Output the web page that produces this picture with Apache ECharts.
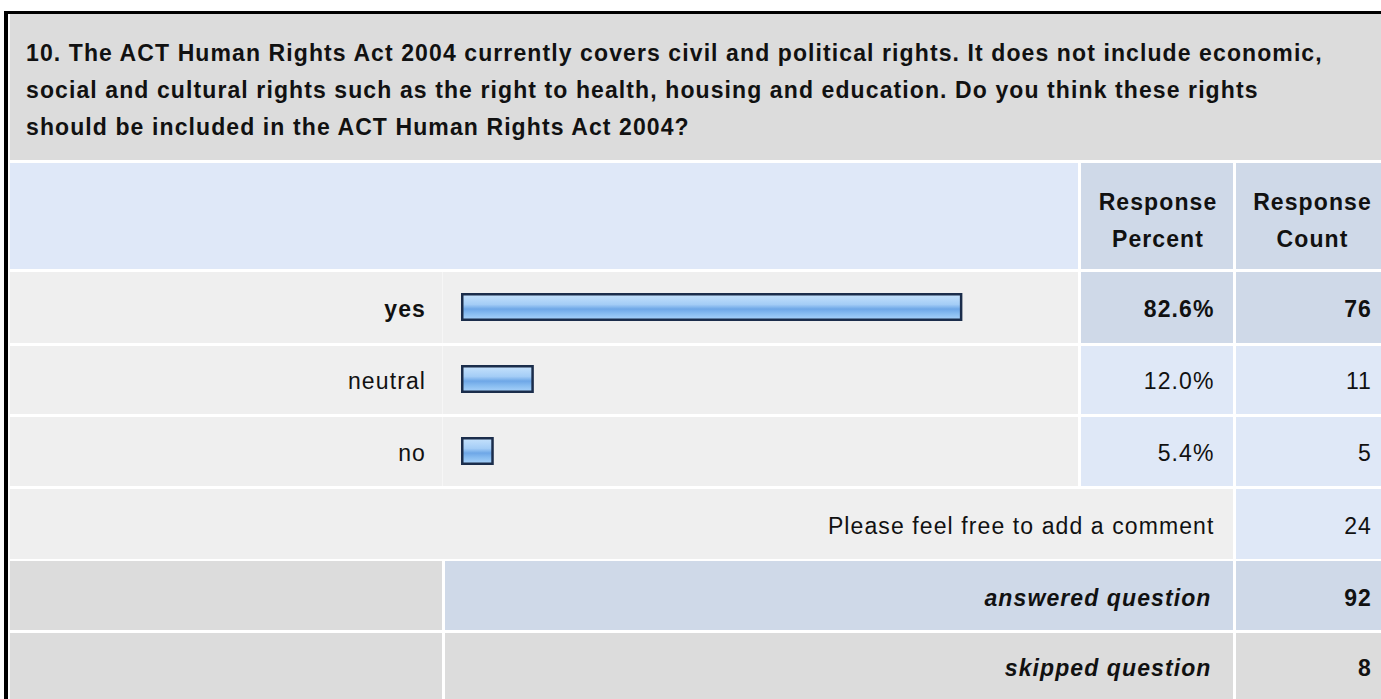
<!DOCTYPE html>
<html>
<head>
<meta charset="utf-8">
<script src="https://cdn.jsdelivr.net/npm/echarts@6/dist/echarts.min.js"></script>
<style>
  html, body { margin: 0; padding: 0; background: #ffffff; }
  #chart { width: 1381px; height: 699px; letter-spacing: 1.1px; }
</style>
</head>
<body>
<div id="chart"></div>
<script>
// Survey question 10 – response summary
const questionLines = [
  '10. The ACT Human Rights Act 2004 currently covers civil and political rights. It does not include economic,',
  'social and cultural rights such as the right to health, housing and education. Do you think these rights',
  'should be included in the ACT Human Rights Act 2004?'
];
const categories = ['yes', 'neutral', 'no'];
const percentValues = [82.6, 12.0, 5.4];
const countValues = [76, 11, 5];
const headerLabels = ['Response\nPercent', 'Response\nCount'];
const summaryLabels = ['Please feel free to add a comment', 'answered question', 'skipped question'];
const summaryCounts = [24, 92, 8];

const FONT = '"Liberation Sans", Arial, Helvetica, sans-serif';
const FS = 23;
const TEXT = '#111111';
const GREY = '#dcdcdc';
const ROW = '#efefef';
const BLUE_LIGHT = '#dfe8f7';
const BLUE_DARK = '#cfd9e8';

// table geometry
const colLabelEnd = 442, colBarEnd = 1078, colPctStart = 1081, colPctEnd = 1233, colCntStart = 1236, right = 1381;
const answerRows = [[272, 343], [346, 414], [417, 486]];
const commentRow = [489, 559], answeredRow = [561, 630], skippedRow = [633, 699];
const pctRight = 1214.5, cntRight = 1372;
const topIdx = percentValues.indexOf(Math.max(...percentValues));

function rect(x, y, w, h, fill, z) {
  return { type: 'rect', shape: { x, y, width: w, height: h }, style: { fill }, z: z || 0, silent: true };
}
function text(str, x, y, opts) {
  return {
    type: 'text', z: 10, silent: true,
    style: Object.assign({
      text: str, x, y, fill: TEXT,
      font: (opts.weight || 'normal') + ' ' + (opts.italic ? 'italic ' : '') + FS + 'px ' + FONT,
      textAlign: opts.align || 'left', textVerticalAlign: 'middle'
    }, opts.lineHeight ? { lineHeight: opts.lineHeight } : {})
  };
}

const graphics = [];
// frame
graphics.push(rect(4, 11, 1377, 3, '#000000', 1));
graphics.push(rect(4, 11, 4, 688, '#000000', 1));
// question block
graphics.push(rect(10, 14, right - 10, 146, GREY));
graphics.push(text(questionLines.join('\n'), 26, 90, { weight: 'bold', lineHeight: 37 }));
// header row
graphics.push(rect(10, 163, colBarEnd - 10, 106, '#dfe8f8'));
graphics.push(rect(colPctStart, 163, colPctEnd - colPctStart, 106, BLUE_DARK));
graphics.push(rect(colCntStart, 163, right - colCntStart, 106, BLUE_DARK));
graphics.push(text(headerLabels[0], (colPctStart + colPctEnd) / 2 + 1, 220, { weight: 'bold', align: 'center', lineHeight: 37 }));
graphics.push(text(headerLabels[1], (colCntStart + right) / 2 + 4, 220, { weight: 'bold', align: 'center', lineHeight: 37 }));
// answer rows
answerRows.forEach(function (r, i) {
  const h = r[1] - r[0];
  const cell = i === topIdx ? BLUE_DARK : BLUE_LIGHT;
  graphics.push(rect(10, r[0], colBarEnd - 10, h, ROW));
  graphics.push(rect(colLabelEnd, r[0], 1, h, '#f6f6f6', 1));
  graphics.push(rect(colPctStart, r[0], colPctEnd - colPctStart, h, cell));
  graphics.push(rect(colCntStart, r[0], right - colCntStart, h, cell));
});
// comment row
graphics.push(rect(10, commentRow[0], colPctEnd - 10, commentRow[1] - commentRow[0], ROW));
graphics.push(rect(colCntStart, commentRow[0], right - colCntStart, commentRow[1] - commentRow[0], BLUE_LIGHT));
// answered / skipped rows
[[answeredRow, BLUE_DARK], [skippedRow, GREY]].forEach(function (p) {
  const r = p[0], h = r[1] - r[0];
  graphics.push(rect(10, r[0], colLabelEnd - 10, h, GREY));
  graphics.push(rect(colLabelEnd + 3, r[0], colPctEnd - colLabelEnd - 3, h, p[1]));
  graphics.push(rect(colCntStart, r[0], right - colCntStart, h, p[1]));
});
// summary texts
const summaryRows = [commentRow, answeredRow, skippedRow];
summaryRows.forEach(function (r, i) {
  const cy = (r[0] + r[1]) / 2 + 2;
  const strong = i > 0;
  graphics.push(text(summaryLabels[i], strong ? pctRight - 3 : pctRight, cy, { weight: strong ? 'bold' : 'normal', italic: strong, align: 'right' }));
  graphics.push(text(String(summaryCounts[i]), cntRight, cy, { weight: strong ? 'bold' : 'normal', align: 'right' }));
});

const gridLeft = 461, gridWidth = 607, gridRight = gridLeft + gridWidth;

const labelRich = {
  b: { fontFamily: FONT, fontSize: FS, fontWeight: 'bold', color: TEXT },
  n: { fontFamily: FONT, fontSize: FS, color: TEXT }
};
function richFmt(str, i) { return (i === topIdx ? '{b|' : '{n|') + str + '}'; }

const chart = echarts.init(document.getElementById('chart'), null, { renderer: 'svg' });
chart.setOption({
  animation: false,
  backgroundColor: '#ffffff',
  graphic: { elements: graphics },
  grid: {
    left: gridLeft, top: 271, width: gridWidth, height: 216,
    containLabel: false, outerBoundsMode: 'none'
  },
  xAxis: { type: 'value', min: 0, max: 100, show: false },
  yAxis: [
    {
      type: 'category', inverse: true, data: categories,
      axisLine: { show: false }, axisTick: { show: false }, splitLine: { show: false },
      axisLabel: {
        interval: 0, margin: 35, padding: [4, 0, 0, 0],
        formatter: function (v, i) { return richFmt(v, i); }, rich: labelRich
      }
    },
    {
      type: 'category', inverse: true, data: categories, position: 'right', offset: 0,
      axisLine: { show: false }, axisTick: { show: false }, splitLine: { show: false },
      axisLabel: {
        interval: 0, align: 'right', margin: pctRight - gridRight, padding: [4, 0, 0, 0],
        formatter: function (v, i) { return richFmt(percentValues[i].toFixed(1) + '%', i); }, rich: labelRich
      }
    },
    {
      type: 'category', inverse: true, data: categories, position: 'right', offset: 0,
      axisLine: { show: false }, axisTick: { show: false }, splitLine: { show: false },
      axisLabel: {
        interval: 0, align: 'right', margin: cntRight - gridRight, padding: [4, 0, 0, 0],
        formatter: function (v, i) { return richFmt(String(countValues[i]), i); }, rich: labelRich
      }
    }
  ],
  series: [{
    type: 'bar', yAxisIndex: 0, data: percentValues, barWidth: 28, z: 5,
    itemStyle: {
      borderColor: '#1b2d4b', borderWidth: 2.5,
      color: new echarts.graphic.LinearGradient(0, 0, 0, 1, [
        { offset: 0, color: '#c6e2fc' },
        { offset: 0.4, color: '#a4cdf6' },
        { offset: 0.58, color: '#6ea7e7' },
        { offset: 0.75, color: '#86bbf0' },
        { offset: 1, color: '#a9d3fa' }
      ])
    }
  }]
});
</script>
</body>
</html>
